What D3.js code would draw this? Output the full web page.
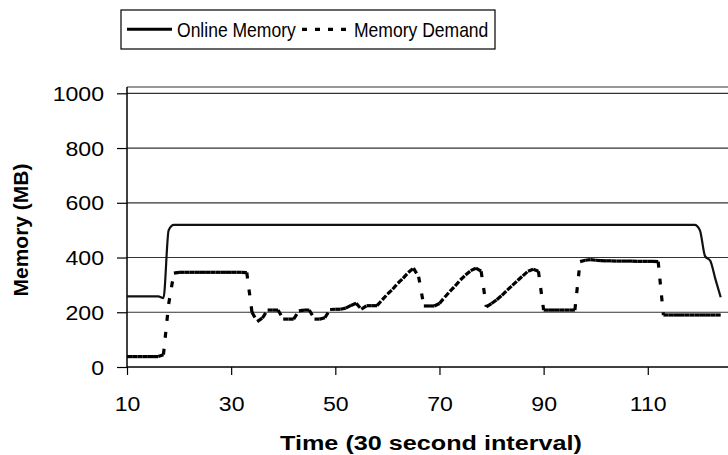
<!DOCTYPE html>
<html><head><meta charset="utf-8">
<script src="https://cdn.jsdelivr.net/npm/d3@7"></script>
<style>body{margin:0;background:#fff}svg{display:block}text{font-family:"Liberation Sans",Arial,sans-serif}</style>
</head><body>
<svg id="c" width="728" height="455"></svg>
<script>
const tStart = 10;
const onlineMemory = [258,258,258,258,258,258,258,252,500,519,
 519,519,519,519,519,519,519,519,519,519,519,519,519,519,519,519,519,519,519,519,
 519,519,519,519,519,519,519,519,519,519,519,519,519,519,519,519,519,519,519,519,
 519,519,519,519,519,519,519,519,519,519,519,519,519,519,519,519,519,519,519,519,
 519,519,519,519,519,519,519,519,519,519,519,519,519,519,519,519,519,519,519,519,
 519,519,519,519,519,519,519,519,519,519,519,519,519,519,519,519,519,519,519,519,
 500,405,388,320,255];
const memoryDemand = [38,38,38,38,38,38,38,45,230,343,
 346,346,346,346,346,346,346,346,346,346,346,346,346,345,200,166,179,208,208,208,
 175,175,175,205,208,208,175,175,180,210,211,211,215,225,233,211,224,224,224,245,
 266,284,306,324,345,361,330,223,223,223,232,255,276,296,318,336,352,361,350,220,
 232,246,262,281,298,316,333,350,357,350,208,208,208,208,208,208,208,385,390,392,
 390,389,388,388,387,387,387,387,386,386,386,386,385,190,190,190,190,190,190,190,
 190,190,190,190,190];
const xTicks = [10,30,50,70,90,110];
const yTicks = [0,200,400,600,800,1000];
const seriesNames = ["Online Memory","Memory Demand"];
const xTitle = "Time (30 second interval)";
const yTitle = "Memory (MB)";

const svg = d3.select("#c");
const x = d3.scaleLinear().domain([10,125.5]).range([127,728.5]);
const y = d3.scaleLinear().domain([0,1000]).range([367,93.3]);
const plotTop = 87, plotRight = 728;
const sx = 1.1;

// gridlines
svg.append("g").selectAll("line").data(yTicks.filter(d=>d>0)).join("line")
  .attr("x1",x(10)).attr("x2",plotRight).attr("y1",d=>y(d)).attr("y2",d=>y(d))
  .attr("stroke","#333").attr("stroke-width",1.2);
// top border
svg.append("line").attr("x1",x(10)).attr("x2",plotRight).attr("y1",plotTop).attr("y2",plotTop)
  .attr("stroke","#333").attr("stroke-width",1.2);

// axes
const yAxis = d3.axisLeft(y).tickValues(yTicks).tickSize(10).tickPadding(0).tickFormat(d3.format("d"));
const gy = svg.append("g").attr("transform",`translate(${x(10)},0)`).call(yAxis);
gy.select(".domain").remove();
gy.append("line").attr("x1",0).attr("x2",0).attr("y1",plotTop).attr("y2",y(0)).attr("stroke","#000").attr("stroke-width",1.5);
gy.selectAll(".tick line").attr("stroke","#000").attr("stroke-width",1.2);
gy.selectAll(".tick text").attr("font-size",21).attr("fill","#000").attr("dy",null)
  .attr("x",null).attr("text-anchor","end").attr("dominant-baseline","central")
  .attr("transform",`translate(-23,0) scale(${sx},1)`);

const xAxis = d3.axisBottom(x).tickValues(xTicks).tickSize(8).tickPadding(0).tickFormat(d3.format("d"));
const gx = svg.append("g").attr("transform",`translate(0,${y(0)})`).call(xAxis);
gx.select(".domain").remove();
gx.append("line").attr("x1",x(10)).attr("x2",plotRight).attr("y1",0).attr("y2",0).attr("stroke","#000").attr("stroke-width",1.5);
gx.selectAll(".tick line").attr("stroke","#000").attr("stroke-width",1.2);
gx.selectAll(".tick text").attr("font-size",21).attr("fill","#000").attr("dy",null).attr("y",null)
  .attr("transform",`translate(0,44) scale(${sx},1)`);

// titles
svg.append("text").attr("text-anchor","middle").attr("font-weight","bold").attr("font-size",21)
  .attr("transform",`translate(431,450) scale(1.2,1)`).text(xTitle);
svg.append("text").attr("text-anchor","middle").attr("font-weight","bold").attr("font-size",20)
  .attr("transform",`translate(28,230) rotate(-90) scale(1.05,1)`).text(yTitle);

// data
const tOnline = onlineMemory.map((v,i)=>({t:tStart+i,v}));
const tDemand = memoryDemand.map((v,i)=>({t:tStart+i,v}));

const line = d3.line().x(d=>x(d.t)).y(d=>y(d.v)).curve(d3.curveMonotoneX);
svg.append("path").datum(tOnline).attr("d",line).attr("fill","none")
  .attr("stroke","#111").attr("stroke-width",2.2);

const segs = d3.pairs(tDemand);
svg.append("g").selectAll("line").data(segs).join("line")
  .attr("x1",d=>x(d[0].t)).attr("y1",d=>y(d[0].v)).attr("x2",d=>x(d[1].t)).attr("y2",d=>y(d[1].v))
  .attr("stroke","#000").attr("stroke-width",3.2).attr("stroke-dasharray","6,11");

// legend
const lg = svg.append("g");
lg.append("rect").attr("x",121).attr("y",10).attr("width",374).attr("height",39)
  .attr("fill","#fff").attr("stroke","#000").attr("stroke-width",1.2);
lg.append("line").attr("x1",127).attr("x2",172).attr("y1",29.3).attr("y2",29.3).attr("stroke","#000").attr("stroke-width",3);
lg.append("text").attr("font-size",21).attr("transform","translate(177,37) scale(0.835,1)").text(seriesNames[0]);
lg.append("line").attr("x1",302).attr("x2",349).attr("y1",29.3).attr("y2",29.3).attr("stroke","#000").attr("stroke-width",3.2).attr("stroke-dasharray","5,8");
lg.append("text").attr("font-size",21).attr("transform","translate(354,37) scale(0.835,1)").text(seriesNames[1]);
</script>
</body></html>
